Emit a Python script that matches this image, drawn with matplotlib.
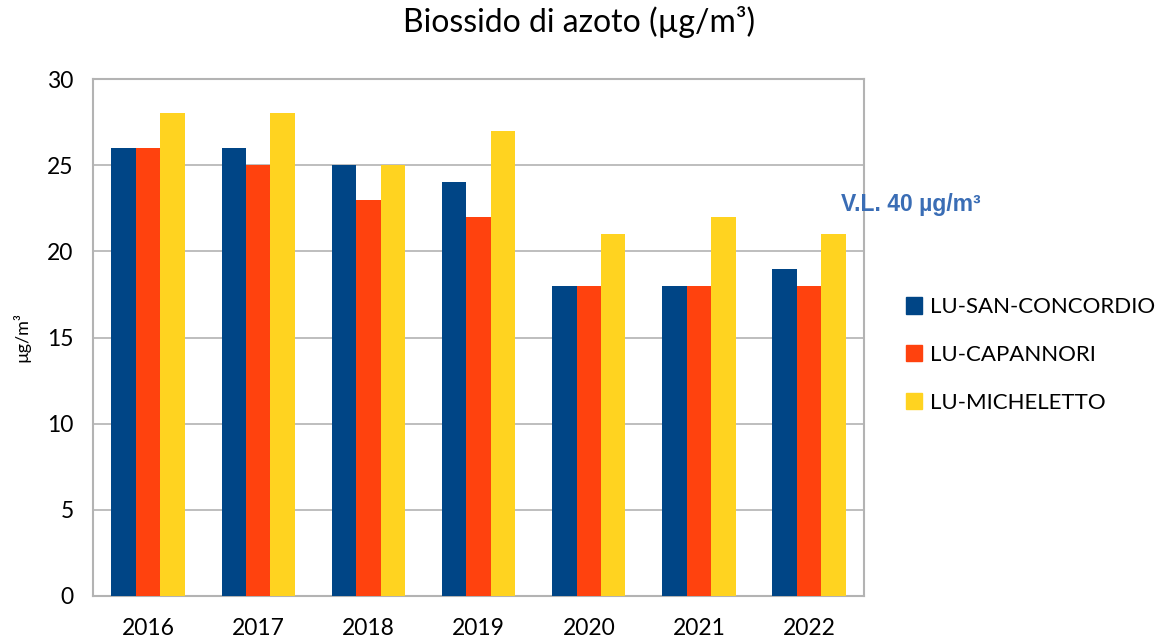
import numpy as np
import matplotlib.pyplot as plt
from matplotlib.patches import Patch

years = ["2016", "2017", "2018", "2019", "2020", "2021", "2022"]
san_concordio = [26, 26, 25, 24, 18, 18, 19]
capannori = [26, 25, 23, 22, 18, 18, 18]
micheletto = [28, 28, 25, 27, 21, 22, 21]
series_names = ["LU-SAN-CONCORDIO", "LU-CAPANNORI", "LU-MICHELETTO"]
colors = ["#004586", "#ff420e", "#ffd320"]

plt.rcParams['font.family'] = ['Lato', 'DejaVu Sans']

fig = plt.figure(figsize=(11.58, 6.43), dpi=100)
ax = fig.add_axes([0.0803, 0.0731, 0.666, 0.804])

x = np.arange(len(years))
w = 0.222
for i, (vals, c) in enumerate(zip([san_concordio, capannori, micheletto], colors)):
    ax.bar(x + (i - 1) * w, vals, w, color=c, zorder=3)

ax.set_xlim(-0.5, len(years) - 0.5)
ax.set_ylim(0, 30)
ax.set_yticks(range(0, 31, 5))
ax.set_xticks(x)
ax.set_xticklabels(years)
ax.tick_params(axis='both', length=0, labelsize=16.5)
ax.tick_params(axis='x', pad=16)
ax.tick_params(axis='y', pad=14)
ax.yaxis.grid(True, color="#b3b3b3", linewidth=1.2, zorder=0)
for s in ax.spines.values():
    s.set_color("#b3b3b3")
    s.set_linewidth(1.5)

ax.set_ylabel("µg/m³", fontsize=13, labelpad=12)
fig.suptitle("Biossido di azoto (µg/m³)", fontsize=23, y=0.99)

fig.text(0.726, 0.672, "V.L. 40 µg/m³", fontsize=16.5, fontweight='bold',
         color="#3a6db5", family='Liberation Sans')

handles = [Patch(color=c) for c in colors]
fig.legend(handles, series_names, loc='center left', bbox_to_anchor=(0.782, 0.448),
           frameon=False, fontsize=16, handlelength=0.75, handleheight=0.75,
           handletextpad=0.35, labelspacing=1.25, borderpad=0, borderaxespad=0)

fig.savefig("out.png", dpi=100)
